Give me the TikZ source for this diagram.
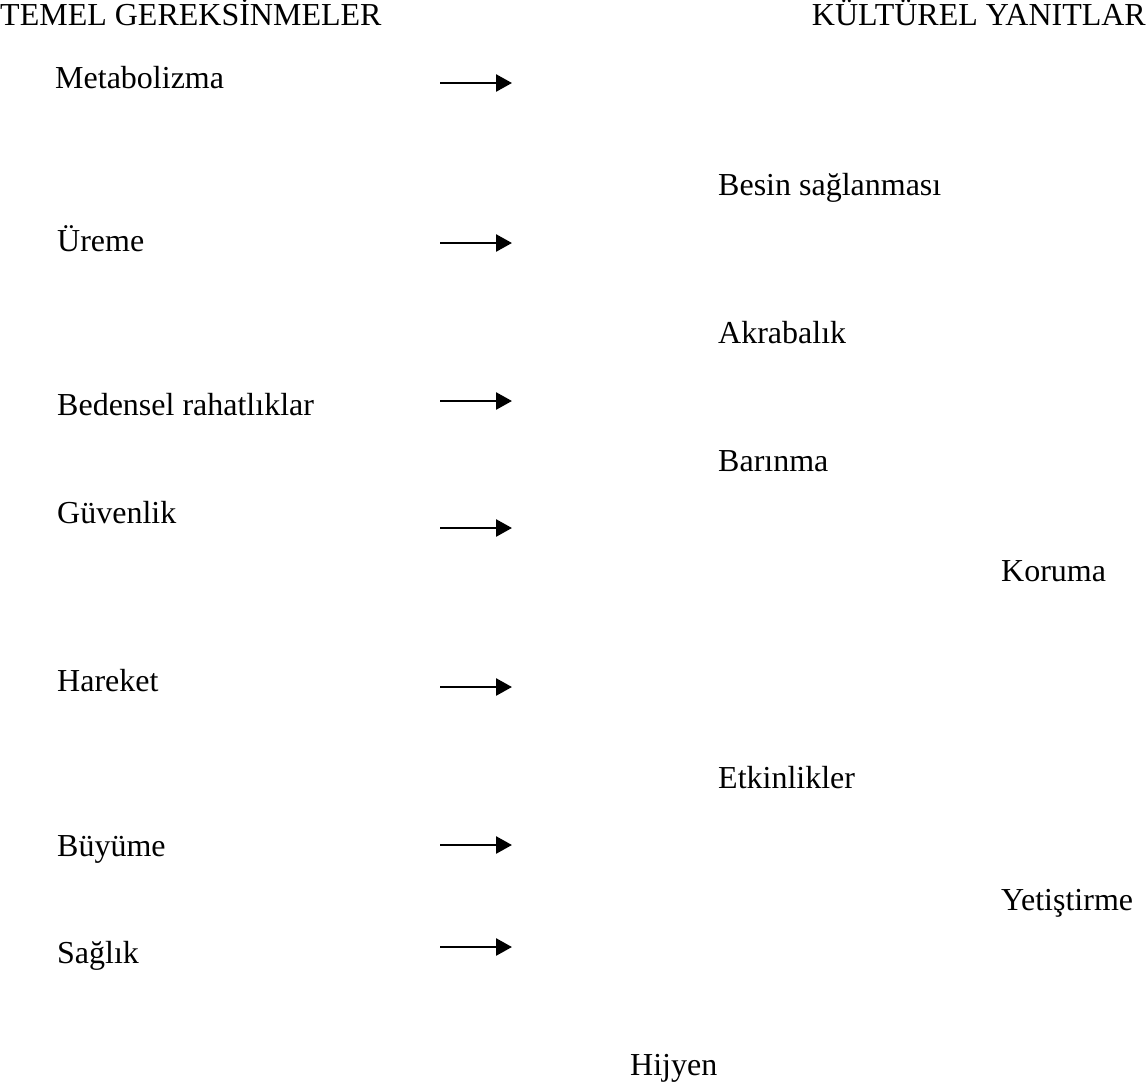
\documentclass[tikz,border=0pt]{standalone}
\usepackage{fontspec}
\setmainfont{Liberation Serif}
\usetikzlibrary{arrows.meta}
\begin{document}
\begin{tikzpicture}[x=1pt,y=-1pt,
  label/.style={anchor=base west,inner sep=0pt,font=\fontsize{32}{38}\selectfont},
  link/.style={line width=2.6pt,-{Triangle[length=16pt,width=17pt]}}]
\useasboundingbox (0,0) rectangle (1146,1090);
% column headings
\node[label] (hl) at (0,25) {TEMEL GEREKSİNMELER};
\node[label,anchor=base east] (hr) at (1146,25) {KÜLTÜREL YANITLAR};
% basic needs
\node[label] (n1) at (55,88) {Metabolizma};
\node[label] (n2) at (57,251) {Üreme};
\node[label] (n3) at (57,415) {Bedensel rahatlıklar};
\node[label] (n4) at (57,523) {Güvenlik};
\node[label] (n5) at (57,691) {Hareket};
\node[label] (n6) at (57,856) {Büyüme};
\node[label] (n7) at (57,963) {Sağlık};
% cultural responses
\node[label] (r1) at (718,195) {Besin sağlanması};
\node[label] (r2) at (718,343) {Akrabalık};
\node[label] (r3) at (718,471) {Barınma};
\node[label] (r4) at (1001,581) {Koruma};
\node[label] (r5) at (718,788) {Etkinlikler};
\node[label] (r6) at (1001,910) {Yetiştirme};
\node[label] (r7) at (630,1075) {Hijyen};
% arrows
\foreach \i/\y in {1/83,2/243,3/401,4/528,5/687,6/845,7/947}{
  \coordinate (s\i) at (440,\y);
  \coordinate (e\i) at (512,\y);
  \draw[link] (s\i) -- (e\i);
}
\end{tikzpicture}
\end{document}
